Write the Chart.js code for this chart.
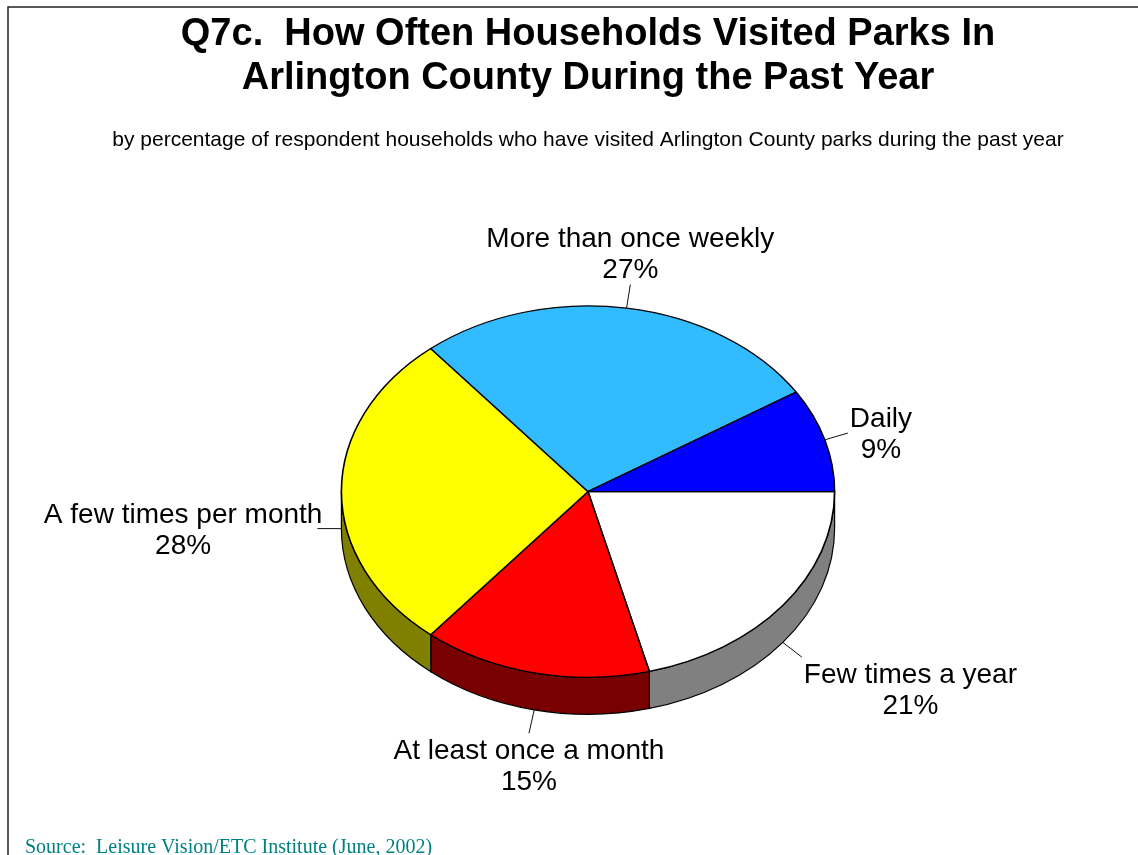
<!DOCTYPE html>
<html>
<head>
<meta charset="utf-8">
<script src="https://cdn.jsdelivr.net/npm/chart.js@4.4.1/dist/chart.umd.min.js"></script>
<style>
  html, body { margin: 0; padding: 0; background: #fff; }
  canvas { display: block; }
</style>
</head>
<body>
<canvas id="myChart" width="1138" height="855"></canvas>
<script>
// data, listed clockwise starting at 3 o'clock
const categories = ["Few times a year", "At least once a month", "A few times per month", "More than once weekly", "Daily"];
const percents = [21, 15, 28, 27, 9];
const topColors = ["#ffffff", "#ff0000", "#ffff00", "#33bbff", "#0000ff"];
const sideColors = ["#808080", "#780000", "#808000", "#1f7fb0", "#000080"];

const titleLines = ["Q7c.  How Often Households Visited Parks In", "Arlington County During the Past Year"];
const subtitleText = "by percentage of respondent households who have visited Arlington County parks during the past year";
const sourceText = "Source:  Leisure Vision/ETC Institute (June, 2002)";

const tilt = 0.753; // vertical squash of the pie
const depth = 37;   // thickness of the pie, px
const labelFont = '28px "Liberation Sans", Arial, sans-serif';

// frame lines + source note
const framePlugin = {
  id: "frame",
  beforeDraw(chart) {
    const ctx = chart.ctx;
    ctx.save();
    ctx.fillStyle = "#fff";
    ctx.fillRect(0, 0, chart.width, chart.height);
    ctx.strokeStyle = "#222";
    ctx.lineWidth = 1.5;
    ctx.beginPath();
    ctx.moveTo(8, chart.height);
    ctx.lineTo(8, 7);
    ctx.lineTo(chart.width, 7);
    ctx.stroke();
    ctx.restore();
  },
  afterDraw(chart) {
    const ctx = chart.ctx;
    ctx.save();
    ctx.font = '20px "Liberation Serif", "Times New Roman", serif';
    ctx.fillStyle = "#008080";
    ctx.textAlign = "left";
    ctx.textBaseline = "alphabetic";
    ctx.fillText(sourceText, 25, 853);
    ctx.restore();
  },
};

// 3d look: side walls, squash, leader lines and labels
const pie3d = {
  id: "pie3d",
  beforeDatasetsDraw(chart) {
    const ctx = chart.ctx;
    const arcs = chart.getDatasetMeta(0).data;
    const cx = arcs[0].x, cy = arcs[0].y, r = arcs[0].outerRadius;
    const ry = r * tilt;
    ctx.save();
    ctx.lineWidth = 1.2;
    ctx.strokeStyle = "#000";
    arcs.forEach((arc, i) => {
      const a0 = Math.max(arc.startAngle, 0);
      const a1 = Math.min(arc.endAngle, Math.PI);
      if (a1 <= a0) return;
      ctx.beginPath();
      ctx.ellipse(cx, cy, r, ry, 0, a0, a1);
      ctx.lineTo(cx + r * Math.cos(a1), cy + ry * Math.sin(a1) + depth);
      ctx.ellipse(cx, cy + depth, r, ry, 0, a1, a0, true);
      ctx.closePath();
      ctx.fillStyle = sideColors[i];
      ctx.fill();
      ctx.stroke();
    });
    ctx.restore();
    // squash the flat pie into an ellipse
    ctx.save();
    ctx.translate(0, cy * (1 - tilt));
    ctx.scale(1, tilt);
  },
  afterDatasetsDraw(chart) {
    const ctx = chart.ctx;
    ctx.restore();
    const arcs = chart.getDatasetMeta(0).data;
    ctx.save();
    ctx.font = labelFont;
    ctx.fillStyle = "#000";
    ctx.textAlign = "center";
    ctx.textBaseline = "alphabetic";
    const capH = 19.5, lineGap = 31, lead = 24;
    arcs.forEach((arc, i) => {
      const mid = (arc.startAngle + arc.endAngle) / 2;
      const c = Math.cos(mid), s = Math.sin(mid);
      const r = arc.outerRadius;
      const ex = arc.x + r * c;
      const ey = arc.y + r * tilt * s + (s > -0.05 ? depth : 0);
      const lx = ex + lead * c, ly = ey + lead * s;
      ctx.strokeStyle = "#111";
      ctx.lineWidth = 1;
      ctx.beginPath();
      ctx.moveTo(ex, ey);
      ctx.lineTo(lx, ly);
      ctx.stroke();

      const lines = [categories[i], percents[i] + "%"];
      const w = Math.max(...lines.map(t => ctx.measureText(t).width));
      const h = capH + lineGap;
      let bx, top;
      if (c > 0.5) bx = lx + 2 + w / 2;
      else if (c < -0.5) bx = lx + 5 - w / 2;
      else bx = lx;
      if (s < -0.5) top = ly - 6 - h;
      else if (s > 0.5) top = ly + 6;
      else top = ly - h / 2;
      ctx.fillText(lines[0], bx, top + capH);
      ctx.fillText(lines[1], bx, top + capH + lineGap);
    });
    ctx.restore();
  },
};

const ctx = document.getElementById("myChart");
new Chart(ctx, {
  type: "pie",
  data: {
    labels: categories,
    datasets: [
      {
        data: percents,
        backgroundColor: topColors,
        borderColor: "#000",
        borderWidth: 1.6,
        hoverOffset: 0,
        clip: false,
      },
    ],
  },
  options: {
    responsive: false,
    animation: false,
    rotation: 90,
    layout: { padding: { top: 7, left: 38, right: 0, bottom: 116 } },
    plugins: {
      legend: { display: false },
      tooltip: { enabled: false },
      title: {
        display: true,
        text: titleLines,
        color: "#000",
        font: { family: '"Liberation Sans", Arial, sans-serif', size: 38, weight: "bold", lineHeight: 44 / 38 },
        padding: { top: 6, bottom: 20 },
      },
      subtitle: {
        display: true,
        text: subtitleText,
        color: "#000",
        font: { family: '"Liberation Sans", Arial, sans-serif', size: 21, lineHeight: 1.2 },
        padding: { top: 7, bottom: 91 },
      },
    },
  },
  plugins: [framePlugin, pie3d],
});
</script>
</body>
</html>
